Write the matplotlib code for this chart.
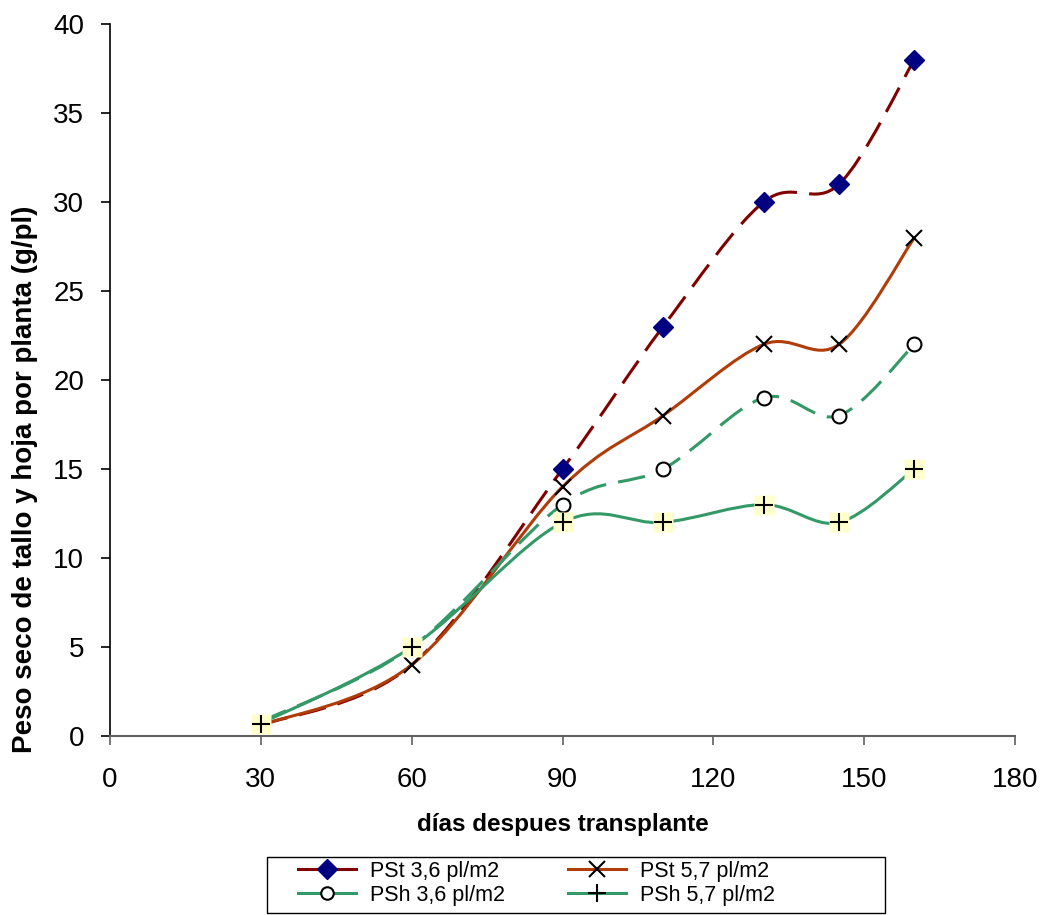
import matplotlib
matplotlib.use("Agg")
import matplotlib.pyplot as plt
from matplotlib.path import Path
from matplotlib.patches import PathPatch, Rectangle
import numpy as np

plt.rcParams['font.family'] = ['Liberation Sans', 'DejaVu Sans']

dias = [30, 60, 90, 110, 130, 145, 160]
pst_36 = [0.6, 4, 15, 23, 30, 31, 38]
pst_57 = [0.6, 4, 14, 18, 22, 22, 28]
psh_36 = [0.8, 5, 13, 15, 19, 18, 22]
psh_57 = [0.7, 5, 12, 12, 13, 12, 15]
labels = ["PSt 3,6 pl/m2", "PSt 5,7 pl/m2", "PSh 3,6 pl/m2", "PSh 5,7 pl/m2"]


def smooth_path(x, y):
    # bezier segments through the points, control points a la catmull-rom
    p = np.column_stack([x, y]).astype(float)
    n = len(p)
    verts = [p[0]]
    codes = [Path.MOVETO]
    for i in range(n - 1):
        p0 = p[i - 1] if i > 0 else p[i]
        p3 = p[i + 2] if i + 2 < n else p[i + 1]
        c1 = p[i] + (p[i + 1] - p0) / 6.0
        c2 = p[i + 1] - (p3 - p[i]) / 6.0
        verts += [c1, c2, p[i + 1]]
        codes += [Path.CURVE4] * 3
    return Path(verts, codes)


LW = 2.2
W, H = 1052, 915
fig = plt.figure(figsize=(W / 100, H / 100), dpi=100)
ax = fig.add_axes([110 / W, 1 - 736 / H, 905 / W, 712 / H])

series = [
    (pst_36, "#800000", (9, 4)),
    (pst_57, "#B03C08", None),
    (psh_36, "#339966", (9, 4)),
    (psh_57, "#339966", None),
]
for k, (vals, col, dash) in enumerate(series):
    patch = PathPatch(smooth_path(dias, vals), facecolor="none", edgecolor=col,
                      lw=LW, capstyle="butt")
    if dash:
        patch.set_linestyle((0, dash))
    ax.add_patch(patch)
    if k == 0:
        ax.plot(dias[2:], vals[2:], ls="none", marker="D", ms=10, mfc="#000080",
                mec="#000080", zorder=3)
    elif k == 1:
        ax.plot(dias[1:], vals[1:], ls="none", marker="x", ms=12, mew=1.5,
                color="black", zorder=3)
    elif k == 2:
        ax.plot(dias[2:], vals[2:], ls="none", marker="o", ms=10, mfc="white",
                mec="black", mew=1.5, zorder=3)
    else:
        ax.plot(dias, vals, ls="none", marker="s", ms=15, mfc="#FFFFCC",
                mec="none", zorder=3)
        ax.plot(dias, vals, ls="none", marker="+", ms=13, mew=1.5,
                color="black", zorder=4)

ax.set_xlim(0, 180)
ax.set_ylim(0, 40)
ax.set_xticks(range(0, 181, 30))
ax.set_yticks(range(0, 41, 5))
ax.tick_params(labelsize=20, length=6.5, width=1.2)
ax.tick_params(axis="x", pad=16, color="#606060")
ax.tick_params(axis="y", pad=12, color="black")
for s in ["top", "right"]:
    ax.spines[s].set_visible(False)
ax.spines["left"].set_color("black")
ax.spines["bottom"].set_color("#606060")
ax.spines["left"].set_linewidth(1.2)
ax.spines["bottom"].set_linewidth(1.5)

ax.set_xlabel("días despues transplante", fontsize=17.5, fontweight="bold", labelpad=14)
ax.set_ylabel("Peso seco de tallo y hoja por planta (g/pl)", fontsize=20,
              fontweight="bold")
ax.yaxis.set_label_coords(-0.08, 0.36)

# legend proxies, laid out row by row
h1, = ax.plot([], [], color="#800000", lw=LW, marker="D", ms=10, mfc="#000080", mec="#000080")
h2, = ax.plot([], [], color="#B03C08", lw=LW, marker="x", ms=12, mew=1.5, mec="black")
h3, = ax.plot([], [], color="#339966", lw=LW, marker="o", ms=9, mfc="white", mec="black", mew=1.5)
h4, = ax.plot([], [], color="#339966", lw=LW, marker="+", ms=13, mew=1.5, mec="black")
leg = fig.legend([h1, h3, h2, h4], [labels[0], labels[2], labels[1], labels[3]],
                 loc="upper left", bbox_to_anchor=(298 / W, 1 - 861 / H),
                 ncol=2, fontsize=15.5, frameon=False, handlelength=2.7,
                 handletextpad=0.65, borderpad=0, labelspacing=0.12,
                 columnspacing=2.9, borderaxespad=0)
# legend box
fig.patches.append(Rectangle((267 / W, 1 - 913 / H), 618 / W, 56 / H,
                             transform=fig.transFigure, fill=False,
                             edgecolor="black", lw=1.0))

fig.savefig("out.png", dpi=100)
